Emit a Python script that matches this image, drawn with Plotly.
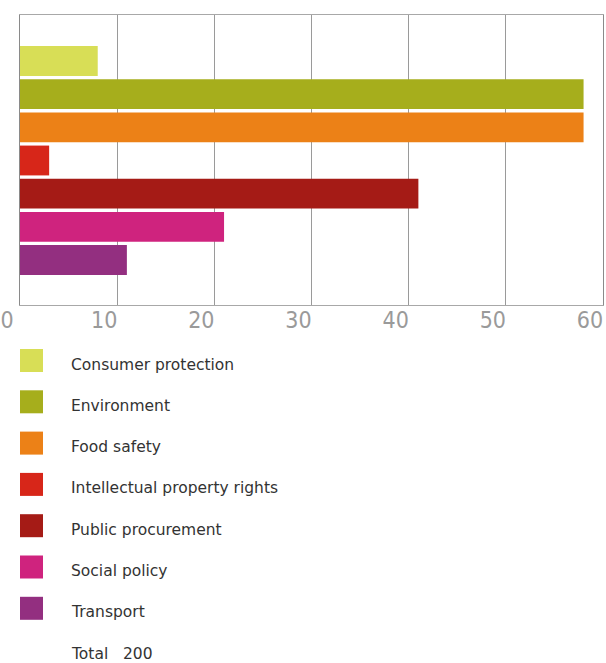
import plotly.graph_objects as go

categories = ["Consumer protection", "Environment", "Food safety",
              "Intellectual property rights", "Public procurement",
              "Social policy", "Transport"]
values = [8, 58, 58, 3, 41, 21, 11]
colors = ["#d8de56", "#a6ae1c", "#ec8117", "#d72619", "#a51b16",
          "#cf237e", "#932f80"]
tick_vals = [0, 10, 20, 30, 40, 50, 60]
total_label = "Total"
total_value = 200

W, H = 606, 663
ml, mr, mt, mb = 20, 3, 15, 358
pw, ph = W - ml - mr, H - mt - mb

fig = go.Figure()
fig.add_trace(go.Bar(
    y=categories, x=values, orientation="h",
    marker=dict(color=colors, line=dict(width=0)),
    width=0.9, showlegend=False, hoverinfo="x+y",
))

def px_to_paper_x(px):
    return (px - ml) / pw

def px_to_paper_y(py):
    return (mt + ph - py) / ph

shapes = []
annotations = []
row0, step = 360.5, 41.3
legend_font = dict(family="DejaVu Sans", size=15.5, color="#333333")
for i, (cat, col) in enumerate(zip(categories, colors)):
    cy = row0 + i * step
    shapes.append(dict(type="rect", xref="paper", yref="paper",
                       x0=px_to_paper_x(20), x1=px_to_paper_x(43),
                       y0=px_to_paper_y(cy - 11.5), y1=px_to_paper_y(cy + 11.5),
                       fillcolor=col, line=dict(width=0)))
    annotations.append(dict(text=cat, xref="paper", yref="paper",
                            x=px_to_paper_x(69), y=px_to_paper_y(cy + 4),
                            xanchor="left", yanchor="middle", showarrow=False,
                            font=legend_font))
cy = row0 + len(categories) * step
annotations.append(dict(text=f"{total_label}   {total_value}", xref="paper", yref="paper",
                        x=px_to_paper_x(69), y=px_to_paper_y(cy + 4),
                        xanchor="left", yanchor="middle", showarrow=False,
                        font=legend_font))

fig.update_layout(
    width=W, height=H,
    margin=dict(l=ml, r=mr, t=mt, b=mb, pad=0, autoexpand=False),
    paper_bgcolor="white", plot_bgcolor="white",
    bargap=0.1,
    shapes=shapes, annotations=annotations,
    xaxis=dict(range=[0, 60], tickvals=tick_vals, showgrid=True, automargin=False,
               gridcolor="#9a9a9a", gridwidth=1, zeroline=False,
               showline=True, linecolor="#a8a8a8", linewidth=1, mirror=True,
               ticks="", ticklabelshift=-13, ticklabelstandoff=-6,
               ticklabeloverflow="allow",
               tickfont=dict(family="Liberation Sans Narrow, DejaVu Sans Condensed, sans-serif",
                             size=23, color="#9a9a9a")),
    yaxis=dict(type="category", categoryorder="array", categoryarray=categories,
               range=[7.357, -1.387], showticklabels=False, showgrid=False,
               automargin=False,
               zeroline=False, showline=True, linecolor="#8a8a8a",
               linewidth=1, mirror=True, ticks=""),
)

fig.write_html("out.html", config={"displayModeBar": False},
               post_script="document.body.style.margin='0';document.body.style.overflow='hidden';")
